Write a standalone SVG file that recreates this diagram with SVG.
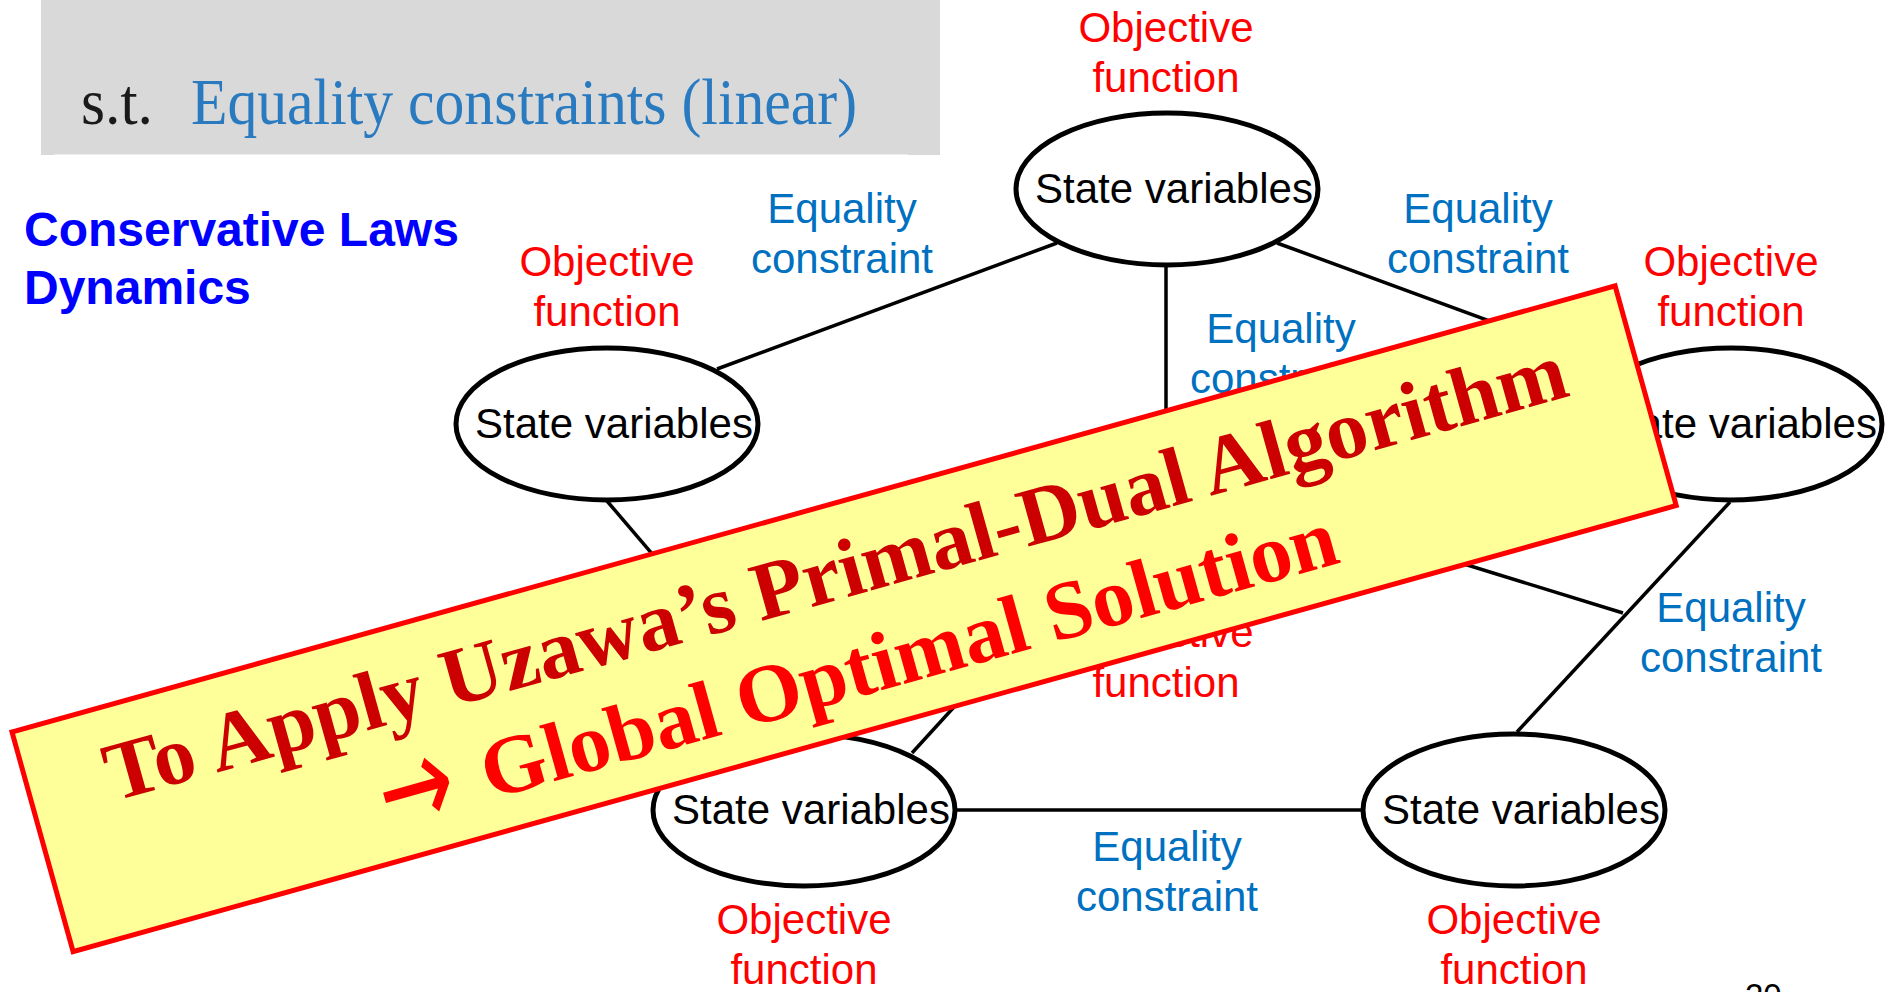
<svg xmlns="http://www.w3.org/2000/svg" width="1895" height="992" viewBox="0 0 1895 992">
<style>
.node{fill:#FFFFFF;stroke:#000000;stroke-width:5}
.ntext{font-family:"Liberation Sans",Arial,sans-serif;font-size:42px;fill:#000000;text-anchor:middle}
.obj{font-family:"Liberation Sans",Arial,sans-serif;font-size:42px;fill:#FF0000;text-anchor:middle}
.eq{font-family:"Liberation Sans",Arial,sans-serif;font-size:42px;fill:#0070C0;text-anchor:middle}
.edge{stroke:#000000;stroke-width:3.5;fill:none}
.ban{font-family:"Liberation Serif","Times New Roman",serif;font-size:83px;font-weight:bold}
</style>
<rect width="1895" height="992" fill="#FFFFFF"/>
<g id="header">
<rect x="41" y="0" width="899" height="155" fill="#D9D9D9"/>
<line x1="54" y1="154.5" x2="908" y2="154.5" stroke="#EDEDED" stroke-width="1"/>
<text x="81" y="124" font-family="'Liberation Serif','Times New Roman',serif" font-size="66" fill="#1A1A1A" textLength="72" lengthAdjust="spacingAndGlyphs">s.t.</text>
<text x="191" y="124" font-family="'Liberation Serif','Times New Roman',serif" font-size="66" fill="#2A7AC0" textLength="666" lengthAdjust="spacingAndGlyphs">Equality constraints (linear)</text>
</g>
<g id="title" font-family="'Liberation Sans',Arial,sans-serif" font-size="48" font-weight="bold" fill="#0000FF">
<text x="24" y="246">Conservative Laws</text>
<text x="24" y="304">Dynamics</text>
</g>
<g id="connectors">
<line class="edge" x1="1057" y1="243" x2="717" y2="369"/>
<line class="edge" x1="1277" y1="243" x2="1625" y2="370.6"/>
<line class="edge" x1="1166" y1="265" x2="1166" y2="446"/>
<line class="edge" x1="607" y1="501" x2="806" y2="734"/>
<line class="edge" x1="912" y1="753" x2="1069.5" y2="580.5"/>
<line class="edge" x1="1730" y1="502" x2="1517" y2="732"/>
<line class="edge" x1="1315" y1="518" x2="1623" y2="613"/>
<line class="edge" x1="955" y1="810" x2="1363" y2="810"/>
</g>
<g id="node-top">
<ellipse class="node" cx="1167" cy="189" rx="151" ry="76"/>
<text class="ntext" x="1174" y="203">State variables</text>
</g>
<g id="node-left">
<ellipse class="node" cx="607" cy="424" rx="151" ry="76"/>
<text class="ntext" x="614" y="438">State variables</text>
</g>
<g id="node-right">
<ellipse class="node" cx="1731" cy="424" rx="151" ry="76"/>
<text class="ntext" x="1738" y="438">State variables</text>
</g>
<g id="node-bottom-left">
<ellipse class="node" cx="804" cy="810" rx="151" ry="76"/>
<text class="ntext" x="811" y="824">State variables</text>
</g>
<g id="node-bottom-right">
<ellipse class="node" cx="1514" cy="810" rx="151" ry="76"/>
<text class="ntext" x="1521" y="824">State variables</text>
</g>
<g id="labels">
<text class="obj" x="1166" y="42">Objective</text><text class="obj" x="1166" y="92">function</text>
<text class="eq" x="842" y="223">Equality</text><text class="eq" x="842" y="273">constraint</text>
<text class="obj" x="607" y="276">Objective</text><text class="obj" x="607" y="326">function</text>
<text class="eq" x="1478" y="223">Equality</text><text class="eq" x="1478" y="273">constraint</text>
<text class="obj" x="1731" y="276">Objective</text><text class="obj" x="1731" y="326">function</text>
<text class="eq" x="1281" y="343">Equality</text><text class="eq" x="1281" y="393">constraint</text>
<text class="obj" x="1166" y="647">Objective</text><text class="obj" x="1166" y="697">function</text>
<text class="eq" x="1731" y="622">Equality</text><text class="eq" x="1731" y="672">constraint</text>
<text class="eq" x="1167" y="861">Equality</text><text class="eq" x="1167" y="911">constraint</text>
<text class="obj" x="804" y="934">Objective</text><text class="obj" x="804" y="984">function</text>
<text class="obj" x="1514" y="934">Objective</text><text class="obj" x="1514" y="984">function</text>
</g>
<g id="banner" transform="translate(12,732) rotate(-15.55)">
<rect x="0" y="0" width="1664" height="228" fill="#FFFF99" stroke="#FF0000" stroke-width="5"/>
<text class="ban" x="79" y="94" fill="#CC0000" textLength="1514" lengthAdjust="spacingAndGlyphs">To Apply Uzawa’s Primal-Dual Algorithm</text>
<text x="336" y="204" font-family="'DejaVu Sans',sans-serif" font-size="130" fill="#FF0000" textLength="76" lengthAdjust="spacingAndGlyphs">→</text>
<text class="ban" x="442" y="193" fill="#FF0000" textLength="885" lengthAdjust="spacingAndGlyphs">Global Optimal Solution</text>
</g>
<text id="page-number" x="1745" y="1007" font-family="'Liberation Sans',Arial,sans-serif" font-size="33" fill="#000000">20</text>
</svg>
